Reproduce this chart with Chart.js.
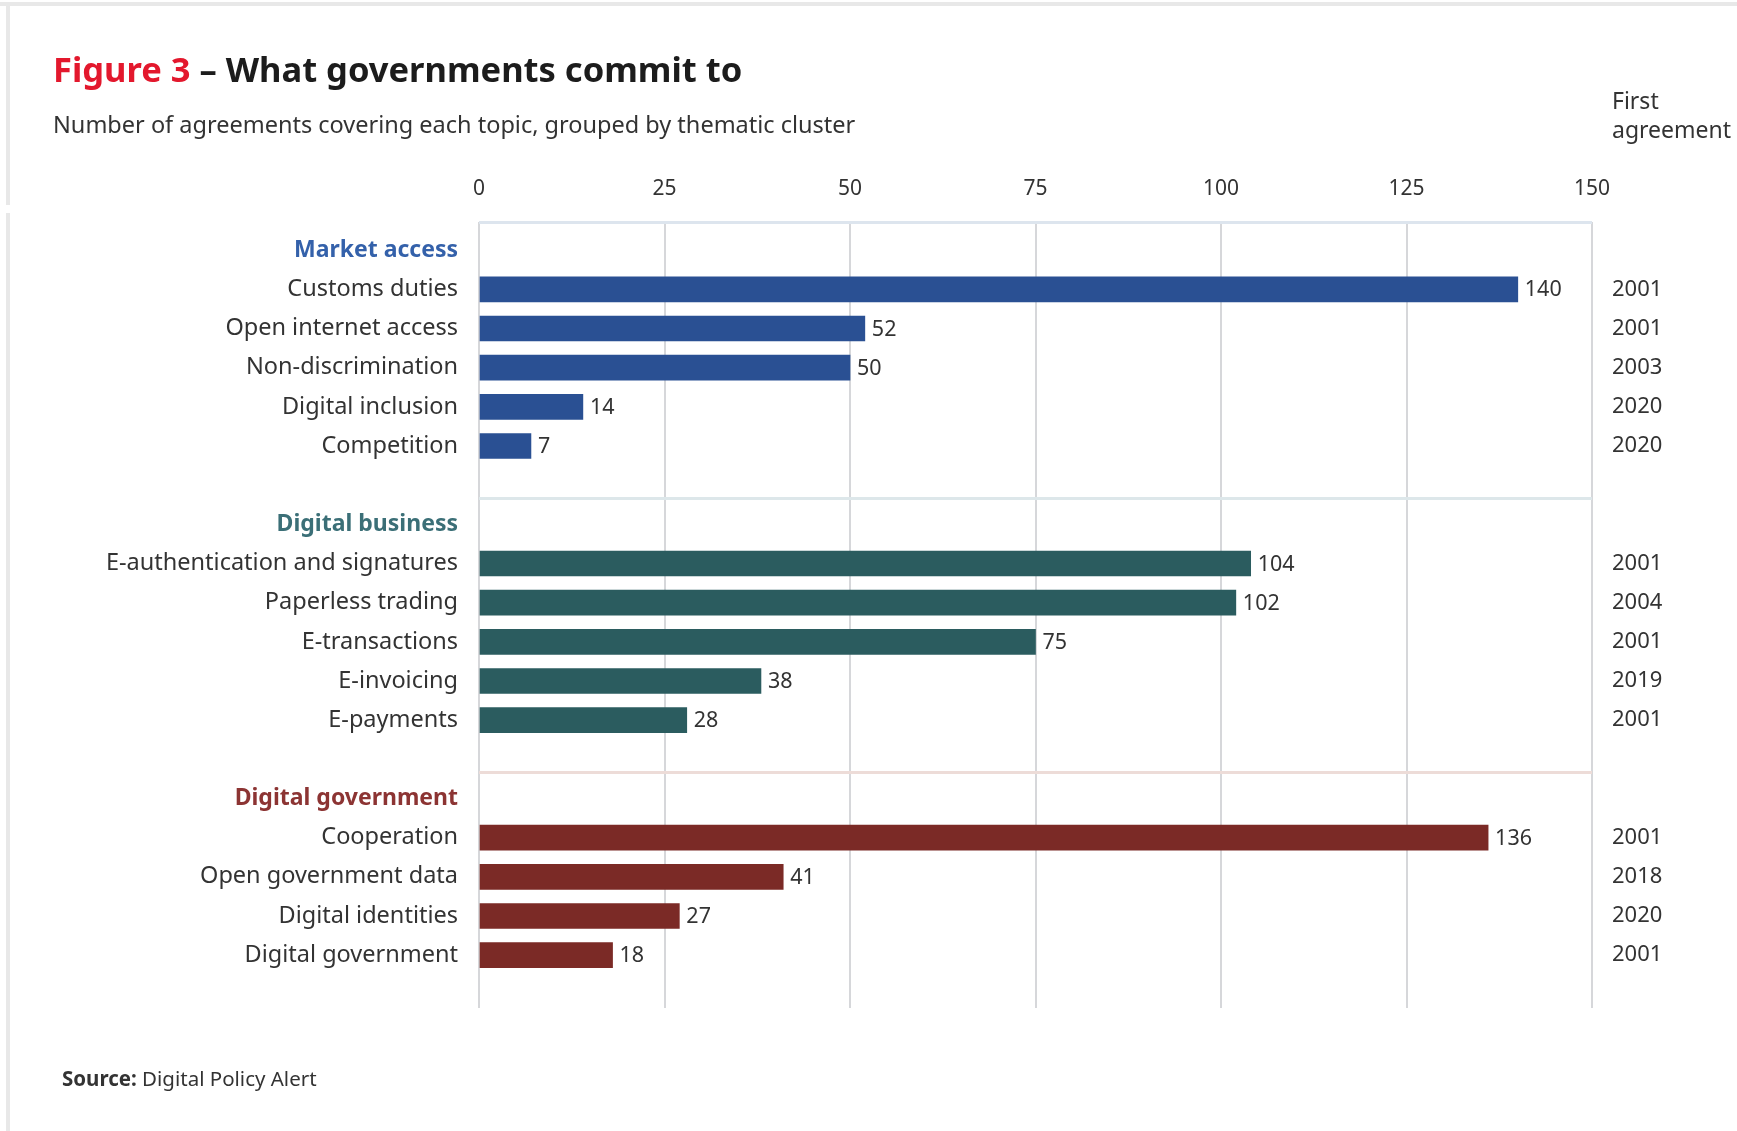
<!DOCTYPE html>
<html>
<head>
<meta charset="utf-8">
<script src="https://cdn.jsdelivr.net/npm/chart.js@4.4.1/dist/chart.umd.min.js"></script>
<style>
body { margin: 0; background: #fff; font-family: "Noto Sans", sans-serif; color: #333; }
#wrap { position: relative; width: 1737px; height: 1131px; overflow: hidden; }
#myChart { position: absolute; left: 0; top: 0; }
.txt { position: absolute; white-space: nowrap; }
#title { left: 53px; top: 48px; font-size: 34.5px; font-weight: bold; line-height: 42px; color: #1c1c1c; }
#title span { color: #e3182d; }
#subtitle { left: 53px; top: 108px; font-size: 23.5px; line-height: 32px; color: #333; }
#first { left: 1612px; top: 86px; font-size: 23px; line-height: 29px; color: #333; }
#source { left: 62px; top: 1064px; font-size: 20.5px; line-height: 28px; color: #333; }
.edgeTop { position: absolute; left: 0; top: 2px; width: 1737px; height: 4px; background: #e8e8e8; }
.edgeLeft { position: absolute; left: 6px; width: 4px; background: #e8e8e8; }
</style>
</head>
<body>
<div id="wrap">
  <div class="edgeTop"></div>
  <div class="edgeLeft" style="top:2px;height:203px"></div>
  <div class="edgeLeft" style="top:213px;height:918px"></div>
  <canvas id="myChart" width="1737" height="1131"></canvas>
  <div class="txt" id="title"><span>Figure 3</span> – What governments commit to</div>
  <div class="txt" id="subtitle">Number of agreements covering each topic, grouped by thematic cluster</div>
  <div class="txt" id="first">First<br>agreement</div>
  <div class="txt" id="source"><b>Source:</b> Digital Policy Alert</div>
</div>
<script>
var groupNames = ["Market access", "Digital business", "Digital government"];

var marketLabels = ["Customs duties", "Open internet access", "Non-discrimination", "Digital inclusion", "Competition"];
var marketValues = [140, 52, 50, 14, 7];
var marketYears = [2001, 2001, 2003, 2020, 2020];

var businessLabels = ["E-authentication and signatures", "Paperless trading", "E-transactions", "E-invoicing", "E-payments"];
var businessValues = [104, 102, 75, 38, 28];
var businessYears = [2001, 2004, 2001, 2019, 2001];

var govLabels = ["Cooperation", "Open government data", "Digital identities", "Digital government"];
var govValues = [136, 41, 27, 18];
var govYears = [2001, 2018, 2020, 2001];

var xTicks = [0, 25, 50, 75, 100, 125, 150];

var barColors = ["#2a5093", "#2b5c5f", "#7b2a26"];
var headColors = ["#3461aa", "#3b6f77", "#8c3433"];
var lineColors = ["#dde5ee", "#dde7ea", "#eddcd8"];

var groups = [
    {labels: marketLabels, values: marketValues, years: marketYears},
    {labels: businessLabels, values: businessValues, years: businessYears},
    {labels: govLabels, values: govValues, years: govYears}
];

// one row per line of the chart: group header, topics, then an empty gap row
var rows = [];
groups.forEach(function (g, gi) {
    if (gi > 0) rows.push({kind: "gap", g: gi});
    rows.push({kind: "head", label: groupNames[gi], g: gi});
    g.labels.forEach(function (l, i) {
        rows.push({kind: "item", label: l, value: g.values[i], year: g.years[i], g: gi});
    });
});

var yMin = -0.72, yMax = 19.35, sepShift = 0.34;

var barData = [], barBg = [], items = [];
rows.forEach(function (r, i) {
    if (r.kind === "item") {
        barData.push({x: r.value, y: i});
        barBg.push(barColors[r.g]);
        items.push(r);
    }
});

function rowAt(v) {
    return Number.isInteger(v) ? rows[v] : null;
}

var barValueLabels = {
    id: "barValueLabels",
    afterDatasetsDraw: function (chart) {
        var ctx = chart.ctx;
        var meta = chart.getDatasetMeta(0);
        ctx.save();
        ctx.font = '21.5px "Noto Sans"';
        ctx.fillStyle = "#333";
        ctx.textBaseline = "middle";
        meta.data.forEach(function (bar, i) {
            ctx.fillText(items[i].value, bar.x + 7, bar.y + 1);
        });
        ctx.restore();
    }
};

new Chart("myChart", {
    type: "bar",
    data: {
        datasets: [{
            data: barData,
            backgroundColor: barBg,
            borderWidth: 0,
            barThickness: 25
        }]
    },
    plugins: [barValueLabels],
    options: {
        indexAxis: "y",
        responsive: false,
        animation: false,
        layout: {padding: {top: 0, bottom: 123, left: 0, right: 0}},
        plugins: {legend: {display: false}, tooltip: {enabled: false}},
        scales: {
            x: {
                position: "top",
                min: 0,
                max: 150,
                afterBuildTicks: function (scale) {
                    scale.ticks = xTicks.map(function (v) { return {value: v}; });
                },
                afterFit: function (scale) { scale.height = 222; },
                grid: {color: "#d6d7da", lineWidth: 2, drawTicks: false},
                border: {display: false},
                ticks: {padding: 20, color: "#333", font: {family: "Noto Sans", size: 21}}
            },
            y: {
                type: "linear",
                position: "left",
                reverse: true,
                offset: false,
                min: yMin,
                max: yMax,
                afterBuildTicks: function (scale) {
                    var t = [{value: yMin}];
                    rows.forEach(function (r, i) {
                        t.push({value: r.kind === "gap" ? i + sepShift : i});
                    });
                    scale.ticks = t;
                },
                afterFit: function (scale) { scale.width = 479; },
                grid: {
                    offset: false,
                    drawTicks: false,
                    lineWidth: 3,
                    color: function (c) {
                        var v = c.tick ? c.tick.value : null;
                        if (v === yMin) return lineColors[0];
                        if (v !== null && !Number.isInteger(v)) {
                            var r = rows[Math.floor(v)];
                            return r ? lineColors[r.g] : "rgba(0,0,0,0)";
                        }
                        return "rgba(0,0,0,0)";
                    }
                },
                border: {display: false},
                ticks: {
                    autoSkip: false,
                    padding: 21,
                    callback: function (v) {
                        var r = rowAt(v);
                        return r && r.kind !== "gap" ? r.label : "";
                    },
                    color: function (c) {
                        var r = c.tick ? rowAt(c.tick.value) : null;
                        return r && r.kind === "head" ? headColors[r.g] : "#333";
                    },
                    font: function (c) {
                        var r = c.tick ? rowAt(c.tick.value) : null;
                        var head = r && r.kind === "head";
                        return {family: "Noto Sans", size: head ? 23 : 23.5, weight: head ? "bold" : "normal"};
                    }
                }
            },
            y2: {
                type: "linear",
                position: "right",
                reverse: true,
                offset: false,
                min: yMin,
                max: yMax,
                afterBuildTicks: function (scale) {
                    var t = [];
                    rows.forEach(function (r, i) {
                        if (r.kind === "item") t.push({value: i});
                    });
                    scale.ticks = t;
                },
                afterFit: function (scale) { scale.width = 145; },
                grid: {display: false, drawTicks: false, offset: false},
                border: {display: false},
                ticks: {
                    autoSkip: false,
                    padding: 20,
                    color: "#333",
                    font: {family: "Noto Sans", size: 22},
                    callback: function (v) {
                        var r = rowAt(v);
                        return r && r.kind === "item" ? String(r.year) : "";
                    }
                }
            }
        }
    }
});
</script>
</body>
</html>
